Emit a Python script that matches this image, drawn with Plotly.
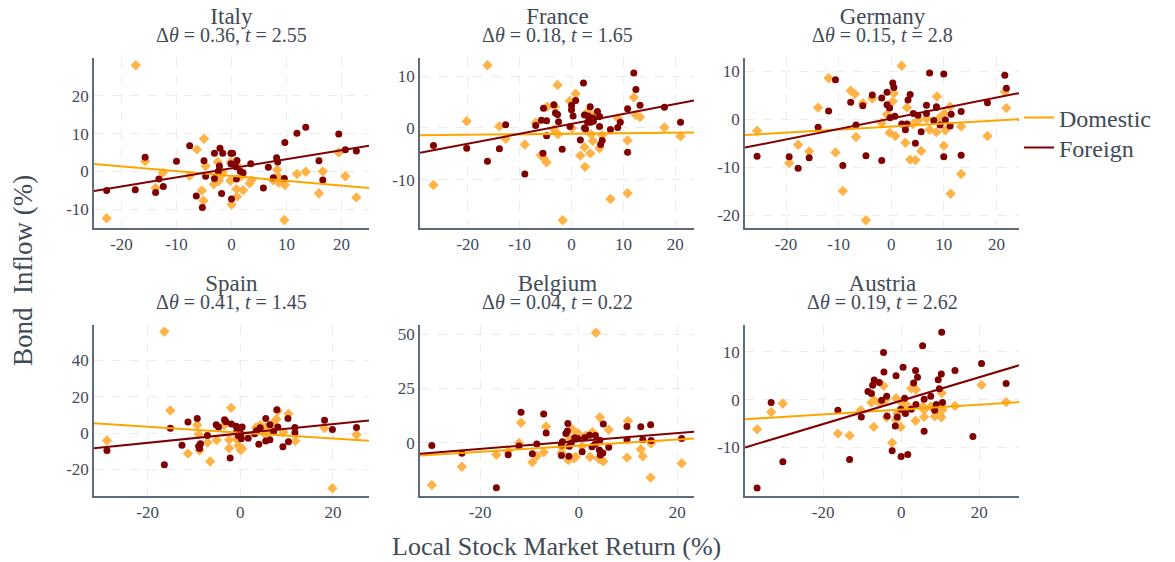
import plotly.graph_objects as go

countries = ["Italy", "France", "Germany", "Spain", "Belgium", "Austria"]
delta_theta = ["0.36", "0.18", "0.15", "0.41", "0.04", "0.19"]
t_stats = ["2.55", "1.65", "2.8", "1.45", "0.22", "2.62"]

# ---- Italy ----
italy_dom_x = [-17.4, -22.7, -15.7, -12.5, -13.8, -7.6, -6.3, -5.0, -5.4, -5.1, -4.7, -3.2, -2.5, -2.3, -1.9, -1.6,
               -0.1, -0.2, 0.0, 0.9, 1.0, 1.0, 1.8, 2.1, 3.3, 3.6, 7.6, 8.3, 8.4, 8.6, 9.7, 9.6, 11.9, 13.5, 15.9,
               16.6, 19.5, 20.7, 22.7]
italy_dom_y = [28.1, -12.4, 2.7, -0.4, -4.4, -1.2, 5.8, 8.6, -5.1, -7.8, 1.4, -3.4, 2.5, -2.5, -1.1, -0.2,
               2.5, -2.5, -8.8, -4.7, -6.7, 1.6, -1.3, -5.0, -3.2, -2.4, -2.4, 0.4, -1.3, -3.0, -3.6, -12.9, -0.7,
               -0.1, -5.8, 0.0, 5.0, -1.3, -6.9]
italy_for_x = [-22.7, -17.5, -15.7, -13.8, -13.2, -12.4, -10.0, -7.6, -6.4, -5.3, -5.0, -4.7, -3.1, -3.1, -2.1,
               -1.6, -2.2, -2.4, -1.8, -0.1, 0.2, -0.1, 0.0, 1.0, 0.8, 0.9, 1.6, 2.1, 3.5, 5.8, 6.7, 7.6, 8.2, 8.4,
               9.6, 9.7, 11.9, 13.5, 15.9, 16.6, 19.5, 20.7, 22.7]
italy_for_y = [-5.1, -4.9, 3.7, -5.6, -2.0, -4.0, 2.7, 6.8, -6.5, -9.6, 2.8, -1.3, 4.8, -1.9, 6.1, 4.8, 1.4, 0.0,
               -5.9, 4.8, 4.8, 2.0, -7.3, 2.9, 1.2, -2.0, 0.0, -0.4, 2.0, -4.4, 1.1, -1.7, 3.6, 2.5, -1.9, 7.6,
               10.1, 11.7, 2.8, -2.3, 9.9, 5.7, 5.4]

# ---- France ----
france_dom_x = [-26.6, -20.2, -16.2, -13.9, -12.7, -9.0, -6.9, -5.9, -5.5, -4.8, -4.7, -3.4, -3.2, -2.7, -2.6,
                -1.7, -0.3, 0.1, 0.8, 1.7, 2.5, 2.6, 3.2, 3.6, 3.8, 4.1, 4.2, 5.4, 5.9, 7.5, 8.9, 10.8, 10.8, 12.0,
                12.4, 13.2, 17.9, 21.0]
france_dom_y = [-11.0, 1.3, 12.1, 0.3, -2.1, -3.2, 1.0, -5.2, -5.7, -6.6, 4.1, -0.3, 4.1, 8.3, -1.2, -17.8, 5.2,
                0.0, 6.6, -5.3, -3.7, -7.5, 3.2, -4.9, -1.2, -2.5, 2.4, -3.9, -1.4, -13.7, 1.9, -2.4, -12.6, 5.9,
                2.5, 2.1, 0.1, -1.6]
france_for_x = [-26.6, -20.2, -16.2, -13.9, -12.7, -9.0, -6.9, -5.8, -5.4, -5.5, -4.8, -4.8, -3.4, -3.1, -2.7,
                -2.5, -1.8, -0.3, 0.0, 0.0, 0.3, 0.8, 1.7, 2.3, 2.5, 2.5, 2.7, 3.2, 3.1, 3.6, 3.7, 4.2, 4.1, 5.0,
                5.4, 5.4, 5.9, 5.6, 7.5, 8.9, 9.4, 10.8, 10.8, 12.0, 12.4, 13.2, 17.9, 21.0]
france_for_y = [-3.4, -3.9, -6.4, -4.0, 0.6, -8.9, 0.5, 1.5, 3.8, -4.9, -1.5, 1.4, 4.5, 2.9, 2.6, 1.2, -4.1, 0.3,
                4.4, 3.5, 2.3, 5.3, -2.3, 8.7, 2.5, 0.0, -0.2, 2.3, 1.1, 4.1, 1.1, 1.3, 1.9, 3.2, 2.2, 0.3, -2.4,
                -3.2, -0.3, 0.1, 1.1, 3.7, -4.7, 10.6, 7.4, 4.4, 4.0, 1.1]

# ---- Germany ----
germany_dom_x = [-25.5, -19.4, -17.7, -15.6, -13.9, -11.9, -10.6, -9.2, -7.7, -6.9, -6.7, -5.4, -4.8, -3.6,
                 -1.8, -0.8, -0.3, 0.3, 0.5, 0.8, 2.0, 2.7, 3.0, 3.6, 4.2, 4.6, 5.1, 5.7, 6.7, 7.3, 8.6, 8.7, 9.2,
                 10.0, 10.1, 10.3, 11.2, 11.3, 13.3, 13.3, 18.3, 21.6, 21.9]
germany_dom_y = [-2.4, -9.1, -5.3, -6.7, 2.4, 8.5, -6.9, -14.9, 5.9, 5.2, -3.7, 3.3, -21.0, 4.3, -0.8, 1.0, -2.8,
                 3.7, 5.4, -3.5, 11.1, -4.9, 2.4, -8.4, -1.0, -8.5, -0.3, -6.6, 0.1, -2.2, -2.7, 4.7, 0.3, -5.5,
                 1.2, -2.3, 2.6, -15.5, -1.5, -11.4, -3.5, 5.7, 2.3]
germany_for_x = [-25.5, -19.4, -17.7, -15.6, -13.9, -11.9, -10.6, -9.2, -7.7, -6.7, -5.4, -4.8, -3.6, -1.8,
                 -1.8, -0.8, -0.8, -0.3, -0.2, 0.3, 0.5, 0.7, 2.0, 2.7, 3.0, 3.2, 3.6, 4.2, 4.6, 5.1, 5.7, 6.7, 6.7,
                 7.3, 8.1, 8.6, 8.6, 9.3, 10.0, 10.0, 10.3, 11.4, 11.2, 13.3, 13.3, 18.3, 21.6, 21.9]
germany_for_y = [-7.7, -7.8, -10.2, -8.0, -1.7, 1.7, 8.2, -9.6, 3.5, -1.2, 2.8, -7.6, 5.0, 4.4, -8.6, 5.6, 3.0,
                 2.3, 0.3, 7.5, 6.6, 0.6, -1.0, -2.2, -1.0, 4.0, 5.1, 1.2, -5.0, 0.8, -2.6, 2.9, 1.2, 9.6, -0.3,
                 2.6, 2.4, -1.2, 9.4, -7.8, -0.2, 1.0, -1.4, 1.6, -7.5, 3.4, 9.1, 6.4]

# ---- Spain ----
spain_dom_x = [-28.8, -16.4, -15.1, -11.3, -9.3, -9.0, -8.8, -7.1, -6.5, -5.1, -3.5, -2.4, -2.4, -2.0, -0.8,
               -0.4, 0.1, 0.4, 0.4, 3.4, 4.3, 5.3, 5.5, 6.4, 7.0, 7.8, 8.1, 9.3, 10.4, 11.9, 18.2, 19.9, 25.1]
spain_dom_y = [-4.1, 55.9, 12.4, -11.3, 4.4, -0.7, -9.6, -5.2, -15.7, -3.9, 4.3, -8.3, -3.7, 13.9, -3.3, -7.0,
               -9.4, -8.5, -1.9, 3.1, 4.4, -0.6, 3.3, 1.3, 5.2, 7.6, 12.2, 0.4, 10.6, -4.3, 2.8, -30.4, -0.9]
spain_for_x = [-28.8, -16.4, -15.1, -12.6, -11.3, -9.3, -9.0, -8.8, -8.6, -7.1, -5.2, -4.7, -3.4, -3.1, -2.2,
               -1.9, -0.9, -0.8, -0.5, -0.4, -0.1, 0.2, 0.4, 0.1, 1.7, 3.1, 3.5, 4.0, 4.3, 5.5, 5.5, 6.4, 6.4, 7.2,
               7.9, 8.1, 9.2, 10.3, 10.4, 11.8, 11.8, 18.2, 19.9, 25.1]
spain_for_y = [-9.6, -17.4, 2.6, -6.7, 6.1, 8.0, -7.2, -8.5, -5.9, -1.3, 4.6, 3.3, 7.4, 6.3, -13.7, 5.0, 3.7,
               0.6, 1.9, -1.5, 2.8, -3.1, 3.3, -0.2, -2.8, -0.4, 1.3, -6.1, 3.0, 8.0, -4.4, -3.7, 4.6, 0.9, 12.8,
               3.3, -7.6, 8.0, -4.8, 3.1, 0.2, 7.0, 2.0, 3.1]

# ---- Belgium ----
belgium_dom_x = [-29.8, -23.7, -16.7, -14.3, -12.1, -11.7, -9.4, -8.5, -7.1, -6.6, -3.5, -3.3, -2.1, -1.8,
                 -1.4, -1.0, -0.6, -0.2, 0.7, 1.4, 2.3, 2.8, 3.5, 4.0, 4.3, 4.5, 5.0, 6.1, 9.8, 10.0, 12.6, 13.0,
                 14.6, 14.7, 20.9]
belgium_dom_y = [-19.3, -10.9, -5.4, -3.7, 0.0, 9.3, -8.9, -6.0, -4.3, 7.6, -4.6, -2.1, -7.8, 2.0, 6.4, -7.0,
                 -6.4, 4.6, -1.5, 3.4, -6.4, 5.0, 50.6, -7.0, 11.8, -7.6, -8.4, 6.1, -6.7, 10.1, -2.9, -6.1, -15.9,
                 -0.2, -9.3]
belgium_for_x = [-29.8, -23.7, -16.7, -14.3, -12.1, -11.7, -9.4, -8.5, -7.1, -6.6, -3.5, -3.5, -3.3, -2.6,
                 -2.3, -2.2, -2.0, -1.9, -1.5, -0.8, -0.5, -0.2, 0.7, 1.2, 2.2, 2.7, 3.3, 3.4, 4.2, 4.3, 4.4, 4.9,
                 5.0, 6.1, 9.8, 9.8, 12.6, 13.0, 14.6, 14.7, 20.9]
belgium_for_y = [-1.2, -4.7, -20.5, -5.4, -1.4, 14.1, -4.9, -0.5, 13.3, 4.6, -5.7, -0.9, 0.6, 4.3, 5.5, 9.0,
                 -6.1, -1.5, 0.0, 2.4, 1.8, 2.1, -4.0, 2.4, 3.5, -1.7, -0.6, 3.4, -3.2, 1.2, -5.5, -4.6, 8.7, -2.0,
                 7.6, 1.4, 7.5, 1.5, 8.4, 1.1, 2.1]

# ---- Austria ----
austria_dom_x = [-36.9, -33.3, -30.3, -16.2, -13.2, -10.3, -7.6, -7.0, -6.9, -5.5, -4.5, -4.0, -3.7, -2.3,
                 -1.3, -1.3, -1.0, -0.1, 0.0, 1.1, 1.7, 2.6, 3.8, 3.7, 5.6, 5.9, 5.9, 7.6, 8.6, 9.8, 10.3, 10.4,
                 10.6, 13.8, 20.6, 26.9]
austria_dom_y = [-6.2, -2.6, -0.8, -7.1, -7.5, -2.2, -0.6, -5.7, -0.1, -0.7, 2.9, 0.0, -3.7, -9.0, 0.3, -4.2,
                 -2.9, -5.7, -0.5, -1.0, -1.4, 2.4, 2.1, -4.4, -1.4, -2.1, -3.6, -1.4, -3.5, -3.1, -3.7, 1.4, -2.1,
                 -1.3, 3.1, -0.5]
austria_for_x = [-36.9, -33.3, -30.3, -16.2, -13.2, -10.2, -8.5, -7.6, -7.3, -6.9, -5.6, -5.0, -4.5, -4.4,
                 -3.7, -3.6, -2.3, -1.5, -1.3, -1.0, -0.1, 0.0, 0.5, 0.9, 1.1, 1.7, 2.6, 3.2, 3.7, 4.2, 3.8, 5.5,
                 5.9, 5.9, 7.6, 8.6, 9.0, 9.5, 9.8, 10.3, 10.4, 10.6, 13.8, 18.4, 20.6, 26.9]
austria_for_y = [-18.5, -0.6, -13.0, -2.2, -12.5, -3.6, 1.7, 1.3, 3.0, 4.1, 3.6, -0.1, 9.9, 5.8, 0.7, -3.4,
                 -10.7, -5.5, 5.0, -3.6, -2.0, -11.9, 6.8, 0.3, -2.9, -11.5, -2.0, 3.5, 6.1, 4.7, -1.0, 11.3, 0.1,
                 -6.6, 0.7, -2.2, -1.0, 4.2, 2.3, 5.4, 14.1, -0.6, 6.1, -7.7, 7.6, 3.4]

# fitted lines (intercept, slope)
dom_intercept = [-1.22, -1.12, -1.54, 0.24, -1.22, -2.05]
dom_slope = [-0.127, 0.0095, 0.0633, -0.163, 0.142, 0.0513]
for_intercept = [0.80, 0.78, 0.13, -0.21, 0.91, -0.20]
for_slope = [0.240, 0.191, 0.217, 0.256, 0.183, 0.245]

# axis ranges
x_ranges = [[-25, 25], [-29.2, 23.6], [-27.8, 24.3], [-31.6, 27.8], [-32.2, 23.4], [-40, 30.2]]
y_ranges = [[-15, 30], [-19.3, 13.5], [-22.6, 12.7], [-34.5, 59.7], [-24.2, 54.3], [-20.1, 15.7]]
x_ticks = [[-20, -10, 0, 10, 20]] * 3 + [[-20, 0, 20]] * 3
y_ticks = [[-10, 0, 10, 20], [-10, 0, 10], [-20, -10, 0, 10], [-20, 0, 20, 40], [0, 25, 50], [-10, 0, 10]]

dom_x = [italy_dom_x, france_dom_x, germany_dom_x, spain_dom_x, belgium_dom_x, austria_dom_x]
dom_y = [italy_dom_y, france_dom_y, germany_dom_y, spain_dom_y, belgium_dom_y, austria_dom_y]
for_x = [italy_for_x, france_for_x, germany_for_x, spain_for_x, belgium_for_x, austria_for_x]
for_y = [italy_for_y, france_for_y, germany_for_y, spain_for_y, belgium_for_y, austria_for_y]

W, H = 1175, 562
col_px = [(86, 361), (412, 686), (737, 1011)]
row_px = [(50, 220), (316.7, 487.7)]

FONT = "Liberation Serif, Times New Roman, serif"
TXT = "#3f4a56"
DOM_LINE = "#FFA500"
DOM_MARK = "#FFB347"
FOR_C = "#800000"

fig = go.Figure()
annotations = []
for i, c in enumerate(countries):
    r, col = divmod(i, 3)
    sfx = "" if i == 0 else str(i + 1)
    xa, ya = "x" + sfx, "y" + sfx
    fig.add_trace(go.Scatter(x=dom_x[i], y=dom_y[i], mode="markers", xaxis=xa, yaxis=ya, showlegend=False,
                             marker=dict(symbol="diamond", size=8, color=DOM_MARK)))
    fig.add_trace(go.Scatter(x=for_x[i], y=for_y[i], mode="markers", xaxis=xa, yaxis=ya, showlegend=False,
                             marker=dict(symbol="circle", size=7, color=FOR_C)))
    xr = x_ranges[i]
    fig.add_trace(go.Scatter(x=xr, y=[dom_intercept[i] + dom_slope[i] * v for v in xr], mode="lines",
                             xaxis=xa, yaxis=ya, name="Domestic", showlegend=(i == 0), legend="legend",
                             line=dict(color=DOM_LINE, width=2)))
    fig.add_trace(go.Scatter(x=xr, y=[for_intercept[i] + for_slope[i] * v for v in xr], mode="lines",
                             xaxis=xa, yaxis=ya, name="Foreign", showlegend=(i == 0), legend="legend2",
                             line=dict(color=FOR_C, width=2)))
    x0, x1 = col_px[col]
    y0, y1 = row_px[r]
    axcommon = dict(showline=True, linecolor="#5f6b78", linewidth=1.5, showgrid=True, gridcolor="#ececec",
                    griddash="dash", gridwidth=1, zeroline=False, ticks="",
                    tickfont=dict(family=FONT, size=17, color=TXT))
    fig.layout["xaxis" + sfx] = dict(domain=[x0 / W, x1 / W], anchor=ya, range=xr,
                                     tickvals=x_ticks[i], ticktext=[str(v) for v in x_ticks[i]], **axcommon)
    fig.layout["yaxis" + sfx] = dict(domain=[1 - y1 / H, 1 - y0 / H], anchor=xa, range=y_ranges[i],
                                     tickvals=y_ticks[i], ticktext=[str(v) for v in y_ticks[i]], **axcommon)
    cx = (x0 + x1) / 2 / W
    label = ('<span style="font-size:23px">%s</span><br>'
             '<span style="font-size:20px">Δ<i>θ</i> = %s, <i>t</i> = %s</span>') % (c, delta_theta[i], t_stats[i])
    annotations.append(dict(text=label, x=cx, y=1 - (y0 - 10) / H, xref="paper", yref="paper", showarrow=False,
                            xanchor="center", yanchor="bottom", align="center",
                            font=dict(family=FONT, size=14, color=TXT)))

annotations.append(dict(text="Local Stock Market Return (%)", x=548.5 / W, y=1 - 538 / H, xref="paper",
                        yref="paper", showarrow=False, xanchor="center", yanchor="middle",
                        font=dict(family=FONT, size=26, color=TXT)))
annotations.append(dict(text="Bond  Inflow (%)", x=15 / W, y=1 - 263 / H, xref="paper", yref="paper",
                        showarrow=False, textangle=-90, xanchor="center", yanchor="middle",
                        font=dict(family=FONT, size=27, color=TXT)))

leg_common = dict(xanchor="left", yanchor="middle", font=dict(family=FONT, size=24, color=TXT),
                  bgcolor="rgba(0,0,0,0)", x=1011 / W)
fig.update_layout(width=W, height=H, margin=dict(l=0, r=0, t=0, b=0), plot_bgcolor="white",
                  paper_bgcolor="white", annotations=annotations,
                  legend=dict(y=1 - 110 / H, **leg_common),
                  legend2=dict(y=1 - 140 / H, **leg_common))

fig.write_html("out.html")
